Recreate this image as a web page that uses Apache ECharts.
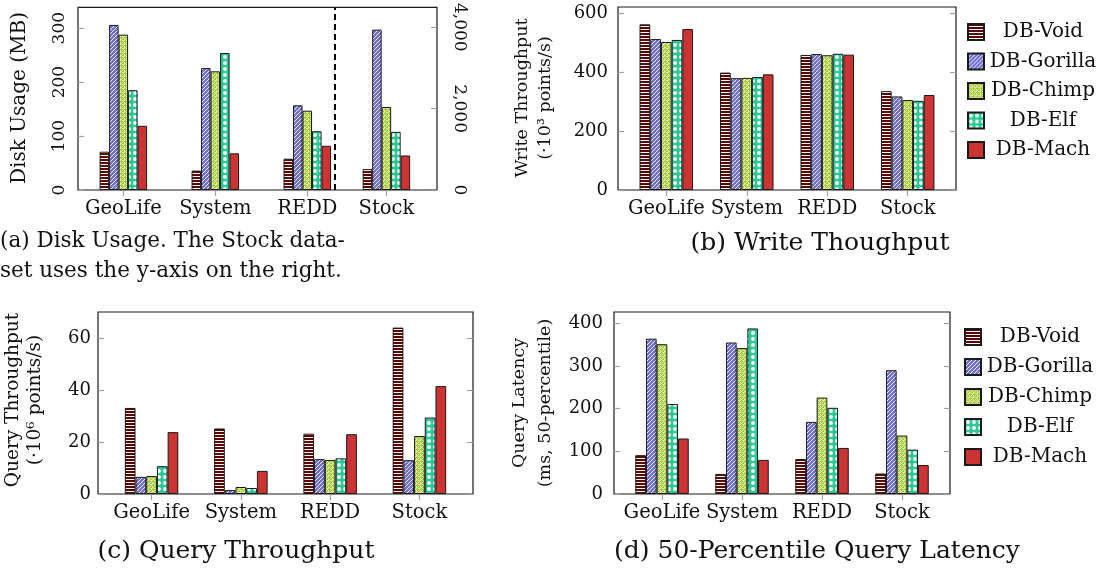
<!DOCTYPE html>
<html>
<head>
<meta charset="utf-8">
<title>DB storage benchmark</title>
<script src="https://cdn.jsdelivr.net/npm/echarts@6/dist/echarts.min.js"></script>
<style>
  html, body { margin: 0; padding: 0; background: #fff; }
  #main { width: 1096px; height: 570px; }
</style>
</head>
<body>
<div id="main"></div>
<script>
// categories and methods
var categories = ['GeoLife', 'System', 'REDD', 'Stock'];
var methods = ['DB-Void', 'DB-Gorilla', 'DB-Chimp', 'DB-Elf', 'DB-Mach'];

// (a) disk usage in MB for GeoLife, System, REDD (left axis)
var diskVoid = [71, 36, 58];
var diskGorilla = [306, 226, 157];
var diskChimp = [288, 220, 147];
var diskElf = [185, 254, 109];
var diskMach = [119, 68, 82];
// (a) Stock disk usage, one value per method (right axis)
var diskStock = [514, 3943, 2041, 1429, 849];

// (b) write throughput, 10^3 points/s
var writeVoid = [563, 399, 459, 336];
var writeGorilla = [513, 380, 462, 318];
var writeChimp = [503, 381, 458, 306];
var writeElf = [510, 384, 463, 303];
var writeMach = [547, 393, 460, 323];

// (c) query throughput, 10^6 points/s
var queryVoid = [33.1, 25.2, 23.2, 64.0];
var queryGorilla = [6.6, 1.5, 13.4, 13.0];
var queryChimp = [6.9, 2.7, 13.1, 22.3];
var queryElf = [10.7, 2.3, 13.7, 29.4];
var queryMach = [23.8, 8.9, 23.0, 41.5];

// (d) 50-percentile query latency, ms
var latVoid = [91, 47, 82, 48];
var latGorilla = [364, 355, 169, 290];
var latChimp = [351, 342, 226, 137];
var latElf = [211, 388, 202, 104];
var latMach = [130, 80, 108, 68];

// tick labels
var diskTicks = [0, 100, 200, 300];
var diskStockTicks = [0, 2000, 4000];
var writeTicks = [0, 200, 400, 600];
var queryTicks = [0, 20, 40, 60];
var latTicks = [0, 100, 200, 300, 400];

// x positions of the groups
var posA = [1, 2, 3];
var stockPosA = 3.86;
var posAll = [1, 2, 3, 4];

window.onload = function () {
  var chart = echarts.init(document.getElementById('main'), null, { renderer: 'canvas' });
  var FONT = 'DejaVu Serif';
  var TICK = '#a0a0a0';

  // 填充图案
  function tile(w, h, draw) {
    var c = document.createElement('canvas');
    c.width = w; c.height = h;
    draw(c.getContext('2d'), w, h);
    return { image: c, repeat: 'repeat' };
  }
  var fills = [
    tile(4, 3, function (g) {
      g.fillStyle = '#5c0000'; g.fillRect(0, 0, 4, 3);
      g.fillStyle = '#ffffff'; g.fillRect(0, 2, 4, 1);
    }),
    tile(4, 4, function (g) {
      g.fillStyle = '#7070d6'; g.fillRect(0, 0, 4, 4);
      g.strokeStyle = '#ffffff'; g.lineWidth = 0.9;
      g.beginPath();
      g.moveTo(0, 4); g.lineTo(4, 0);
      g.moveTo(-1, 1); g.lineTo(1, -1);
      g.moveTo(3, 5); g.lineTo(5, 3);
      g.stroke();
    }),
    tile(4, 4, function (g) {
      g.fillStyle = '#d6e89c'; g.fillRect(0, 0, 4, 4);
      g.fillStyle = '#a6c93a';
      g.fillRect(1, 0, 1, 3); g.fillRect(0, 1, 3, 1);
      g.fillRect(3, 2, 1, 1); g.fillRect(3, 3, 1, 1); g.fillRect(2, 3, 1, 1);
    }),
    tile(6, 6, function (g) {
      g.fillStyle = '#2cc896'; g.fillRect(0, 0, 6, 6);
      g.fillStyle = '#ffffff';
      g.beginPath(); g.arc(3, 3, 1.9, 0, Math.PI * 2); g.fill();
    }),
    '#cc3333'
  ];

  function xAxes(gridIndex, min, max, labelPos, tickPos) {
    return [{
      gridIndex: gridIndex, type: 'value', position: 'bottom', min: min, max: max,
      axisLine: { show: false }, axisTick: { show: false }, splitLine: { show: false },
      axisLabel: {
        customValues: labelPos, margin: 9,
        fontFamily: FONT, fontSize: 19.5, color: '#111',
        formatter: function (v) {
          for (var i = 0; i < labelPos.length; i++) {
            if (Math.abs(labelPos[i] - v) < 1e-6) return categories[i];
          }
          return '';
        }
      }
    }, {
      gridIndex: gridIndex, type: 'value', position: 'top', min: min, max: max,
      axisLine: { show: false }, splitLine: { show: false }, axisLabel: { show: false },
      axisTick: { inside: true, length: 6, customValues: tickPos, lineStyle: { color: TICK, width: 1.2 } }
    }];
  }

  function yAxis(gridIndex, pos, max, ticks, label) {
    return {
      gridIndex: gridIndex, type: 'value', position: pos, min: 0, max: max,
      axisLine: { show: false }, splitLine: { show: false },
      axisTick: { inside: true, length: 6, customValues: ticks, lineStyle: { color: TICK, width: 1.2 } },
      axisLabel: label ? Object.assign({ customValues: ticks, fontFamily: FONT, fontSize: 18, color: '#111' }, label)
                       : { show: false }
    };
  }

  function barSeries(name, k, xIdx, yIdx, xs, vals, width) {
    return {
      name: name, type: 'bar', xAxisIndex: xIdx, yAxisIndex: yIdx,
      barWidth: width, barGap: '0%',
      itemStyle: { color: fills[k], borderColor: '#1a1a1a', borderWidth: 1 },
      data: xs.map(function (x, i) { return [x, vals[i]]; })
    };
  }

  var gridStyle = { show: true, borderColor: '#1a1a1a', borderWidth: 1.2, containLabel: false };

  var diskSets = [diskVoid, diskGorilla, diskChimp, diskElf, diskMach];
  var writeSets = [writeVoid, writeGorilla, writeChimp, writeElf, writeMach];
  var querySets = [queryVoid, queryGorilla, queryChimp, queryElf, queryMach];
  var latSets = [latVoid, latGorilla, latChimp, latElf, latMach];

  var series = [];
  methods.forEach(function (m, k) {
    series.push(barSeries(m, k, 0, 0, posA, diskSets[k], 9.5));
    series.push(barSeries(m, k, 1, 1, [stockPosA], [diskStock[k]], 9.5));
    series.push(barSeries(m, k, 2, 2, posAll, writeSets[k], 10.7));
    series.push(barSeries(m, k, 4, 4, posAll, querySets[k], 10.7));
    series.push(barSeries(m, k, 6, 6, posAll, latSets[k], 10.7));
  });
  // Stock 用右轴的分隔虚线
  series[0].markLine = {
    silent: true, symbol: 'none', label: { show: false },
    lineStyle: { color: '#000', type: [6, 4], width: 2 },
    data: [{ xAxis: 3.5 }]
  };

  function legendAt(left, top, gap) {
    return {
      orient: 'vertical', left: left, top: top, itemGap: gap,
      itemWidth: 16, itemHeight: 16, icon: 'rect',
      data: methods,
      formatter: function (n) { return '{t|' + n + '}'; },
      textStyle: {
        rich: { t: { width: 108, height: 20, align: 'center', fontFamily: FONT, fontSize: 20, color: '#111' } }
      }
    };
  }

  function vtext(x, y, text, size) {
    return {
      type: 'text', x: x, y: y, rotation: Math.PI / 2,
      style: { text: text, fontFamily: FONT, fontSize: size, fill: '#111', align: 'center', verticalAlign: 'middle' }
    };
  }
  function htext(x, y, text, size, align) {
    return {
      type: 'text', x: x, y: y,
      style: { text: text, fontFamily: FONT, fontSize: size, fill: '#111', align: align || 'center', verticalAlign: 'middle' }
    };
  }

  var option = {
    animation: false,
    grid: [
      Object.assign({ left: 78, top: 7, width: 359, height: 183 }, gridStyle),
      Object.assign({ left: 618, top: 7, width: 338, height: 183 }, gridStyle),
      Object.assign({ left: 98, top: 312, width: 375, height: 182 }, gridStyle),
      Object.assign({ left: 614, top: 312, width: 336, height: 182 }, gridStyle)
    ],
    xAxis: [].concat(
      xAxes(0, 0.507, 4.41, posA.concat([stockPosA]), posA.concat([stockPosA])),
      xAxes(1, 0.4, 4.6, posAll, posAll),
      xAxes(2, 0.4, 4.6, posAll, posAll),
      xAxes(3, 0.4, 4.6, posAll, posAll)
    ),
    yAxis: [
      yAxis(0, 'left', 338.5, diskTicks, { rotate: 90, margin: 10, fontSize: 17 }),
      yAxis(0, 'right', 4490, diskStockTicks, {
        rotate: -90, margin: 14, fontSize: 17,
        formatter: function (v) { return v.toLocaleString('en-US'); }
      }),
      yAxis(1, 'left', 622, writeTicks, { margin: 10 }),
      yAxis(1, 'right', 622, writeTicks, null),
      yAxis(2, 'left', 70, queryTicks, { margin: 7 }),
      yAxis(2, 'right', 70, queryTicks, null),
      yAxis(3, 'left', 426.5, latTicks, { margin: 11 }),
      yAxis(3, 'right', 426.5, latTicks, null)
    ],
    legend: [legendAt(962, 17, 9.5), legendAt(959, 322, 10)],
    graphic: [
      vtext(20, 98, 'Disk Usage (MB)', 20),
      vtext(522, 98, 'Write Throughput', 17.5),
      vtext(545, 98, '(·10³ points/s)', 17.5),
      vtext(13, 400, 'Query Throughput', 18.5),
      vtext(35, 400, '(·10⁶ points/s)', 18.5),
      vtext(519, 403, 'Query Latency', 17.5),
      vtext(545, 403, '(ms, 50-percentile)', 17.5),
      htext(0, 241, '(a) Disk Usage. The Stock data-', 21.5, 'left'),
      htext(0, 271, 'set uses the y-axis on the right.', 21.5, 'left'),
      htext(820, 243, '(b) Write Thoughput', 25),
      htext(236, 551, '(c) Query Throughput', 25),
      htext(817, 551, '(d) 50-Percentile Query Latency', 25)
    ],
    series: series
  };

  chart.setOption(option);
};
</script>
</body>
</html>
